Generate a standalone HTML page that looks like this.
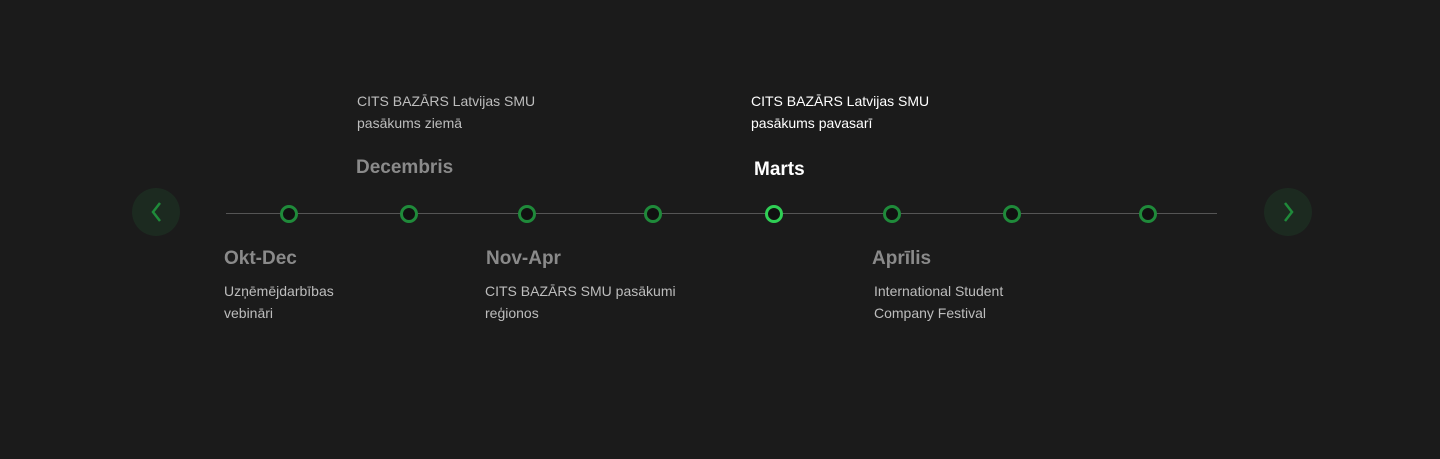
<!DOCTYPE html>
<html><head><style>
body{margin:0;width:1440px;height:459px;background:#1b1b1b;position:relative;overflow:hidden;font-family:"Liberation Sans",sans-serif}
.t{position:absolute;font-size:19px;font-weight:bold;color:#8a8a8a;white-space:nowrap}
.b{position:absolute;font-size:14px;line-height:22px;color:#bdbdbd;white-space:nowrap}
.n{position:absolute;top:205px;width:12px;height:12px;border:3px solid #1f8a3a;border-radius:50%;background:#111}
.btn{position:absolute;top:188px;width:48px;height:48px;border-radius:50%;background:#1c2a20}
.btn svg{position:absolute;left:0;top:0}
</style></head><body>
<div style="position:absolute;left:226px;top:213px;width:991px;height:1px;background:#555"></div>
<div class="btn" style="left:132px"><svg width="48" height="48"><polyline points="28,15 21,24 28,33" fill="none" stroke="#1f8a3a" stroke-width="2.5"/></svg></div>
<div class="btn" style="left:1264px"><svg width="48" height="48"><polyline points="21,15 28,24 21,33" fill="none" stroke="#1f8a3a" stroke-width="2.5"/></svg></div>
<div class="n" style="left:280px"></div>
<div class="n" style="left:400px"></div>
<div class="n" style="left:518px"></div>
<div class="n" style="left:644px"></div>
<div class="n" style="left:765px;border-color:#2fcf55"></div>
<div class="n" style="left:883px"></div>
<div class="n" style="left:1003px"></div>
<div class="n" style="left:1139px"></div>
<div class="b" style="left:357px;top:90px">CITS BAZĀRS Latvijas SMU<br>pasākums ziemā</div>
<div class="t" style="left:356px;top:157px">Decembris</div>
<div class="b" style="left:751px;top:90px;color:#fff">CITS BAZĀRS Latvijas SMU<br>pasākums pavasarī</div>
<div class="t" style="left:754px;top:159px;color:#fff">Marts</div>
<div class="t" style="left:224px;top:248px">Okt-Dec</div>
<div class="b" style="left:224px;top:280px">Uzņēmējdarbības<br>vebināri</div>
<div class="t" style="left:486px;top:248px">Nov-Apr</div>
<div class="b" style="left:485px;top:280px">CITS BAZĀRS SMU pasākumi<br>reģionos</div>
<div class="t" style="left:872px;top:248px">Aprīlis</div>
<div class="b" style="left:874px;top:280px">International Student<br>Company Festival</div>
</body></html>
